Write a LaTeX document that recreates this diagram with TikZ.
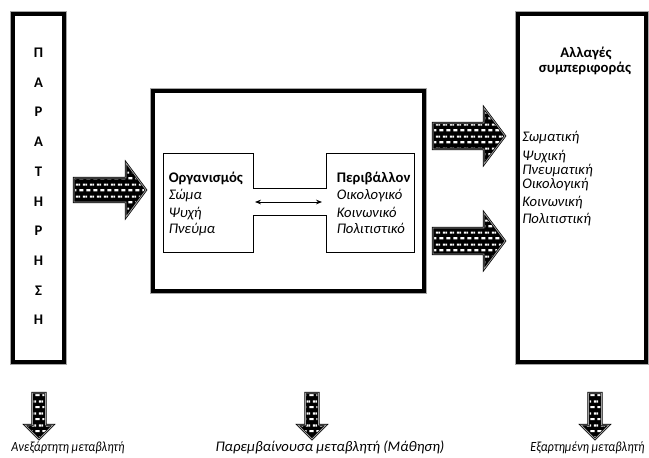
\documentclass[tikz,border=0pt]{standalone}
\usepackage{fontspec}
\setmainfont{Carlito}
\usetikzlibrary{patterns,arrows.meta}

% staggered white dashes used inside the block arrows
\pgfdeclarepatternformonly{brickdots}{\pgfqpoint{0pt}{0pt}}{\pgfqpoint{5.4pt}{9pt}}{\pgfqpoint{5.4pt}{9pt}}{%
  \pgfpathrectangle{\pgfqpoint{0.4pt}{1.4pt}}{\pgfqpoint{3.3pt}{1.7pt}}%
  \pgfpathrectangle{\pgfqpoint{3.1pt}{5.9pt}}{\pgfqpoint{2.3pt}{1.7pt}}%
  \pgfpathrectangle{\pgfqpoint{0pt}{5.9pt}}{\pgfqpoint{1pt}{1.7pt}}%
  \pgfusepath{fill}}

% right-pointing block arrow: x start, head base x, tip x, centre y, shaft half, head half
\newcommand\blockright[6]{%
  \path[blockarr] (#1,{#4-#5}) -- (#2,{#4-#5}) -- (#2,{#4-#6}) -- (#3,#4)
    -- (#2,{#4+#6}) -- (#2,{#4+#5}) -- (#1,{#4+#5}) -- cycle;}
% downward block arrow: centre x, top y, head base y, tip y, shaft half, head half
\newcommand\blockdown[6]{%
  \path[blockarr] ({#1-#5},#2) -- ({#1+#5},#2) -- ({#1+#5},#3) -- ({#1+#6},#3)
    -- (#1,#4) -- ({#1-#6},#3) -- ({#1-#5},#3) -- ({#1-#5},#2) -- cycle;}
% narrow italic caption
\newcommand\narrowcap[1]{\scalebox{0.87}[1]{#1}}

\tikzset{
  blockarr/.style={preaction={fill=black}, pattern=brickdots, pattern color=white,
    draw=black, line width=1.7pt, line join=miter,
    postaction={draw=gray!75, line width=0.6pt, line join=miter}},
  frameouter/.style={draw=gray!70, line width=1.1pt},
  frameinner/.style={draw=black, line width=2.3pt},
  lbl/.style={inner sep=0pt, font=\fontsize{11}{13}\selectfont},
  bold/.style={lbl, font=\fontsize{11}{13}\selectfont\bfseries},
  ital/.style={lbl, font=\fontsize{11}{13}\selectfont\itshape},
  capt/.style={lbl, font=\fontsize{10.5}{12}\selectfont\itshape},
}

\begin{document}
\begin{tikzpicture}[x=0.75pt, y=-0.75pt]
\useasboundingbox (0,0) rectangle (649,457);

% ---- framed boxes
\draw[frameouter] (11.2,12.2) rectangle (65.8,363.8);
\draw[frameinner] (13,14) rectangle (64,362);
\draw[frameouter] (151.2,89.2) rectangle (425.8,292.8);
\draw[frameinner] (153,91) rectangle (424,291);
\draw[frameouter] (516.2,12.2) rectangle (647.8,363.8);
\draw[frameinner] (518,14) rectangle (646,362);

% ---- vertical title in the left box
\foreach \ch [count=\i from 0] in {Π,Α,Ρ,Α,Τ,Η,Ρ,Η,Σ,Η}
  \node[bold, anchor=base] (p\i) at (38.5,{57.5+\i*29.7}) {\ch};

% ---- organism / environment block
\draw[line width=0.6pt] (163,153) -- (253,153) -- (253,188) -- (326,188) -- (326,153)
  -- (414,153) -- (414,252) -- (326,252) -- (326,215) -- (253,215) -- (253,252)
  -- (163,252) -- cycle;
\node[bold, anchor=base west] (org) at (168.5,182.5) {Οργανισμός};
\node[ital, anchor=base west] (o1) at (168.5,199.5) {Σώμα};
\node[ital, anchor=base west] (o2) at (168.5,217) {Ψυχή};
\node[ital, anchor=base west] (o3) at (168.5,233.5) {Πνεύμα};
\node[bold, anchor=base west] (env) at (336.5,182.5) {Περιβάλλον};
\node[ital, anchor=base west] (e1) at (336.5,199.5) {Οικολογικό};
\node[ital, anchor=base west] (e2) at (336.5,217) {Κοινωνικό};
\node[ital, anchor=base west] (e3) at (336.5,233.5) {Πολιτιστικό};
\coordinate (ml) at (255,202);
\coordinate (mr) at (322,202);
\draw[line width=0.6pt, {Stealth[length=4.5pt,width=3.5pt]}-{Stealth[length=4.5pt,width=3.5pt]}] (ml) -- (mr);

% ---- right box contents
\node[bold, anchor=base] (t1) at (586,57.5) {Αλλαγές};
\node[bold, anchor=base] (t2) at (585,72.5) {συμπεριφοράς};
\node[ital, anchor=base west] (r1) at (522,141) {Σωματική};
\node[ital, anchor=base west] (r2) at (522,160) {Ψυχική};
\node[ital, anchor=base west] (r3) at (522,174) {Πνευματική};
\node[ital, anchor=base west] (r4) at (522,188.5) {Οικολογική};
\node[ital, anchor=base west] (r5) at (522,206) {Κοινωνική};
\node[ital, anchor=base west] (r6) at (522,223) {Πολιτιστική};

% ---- block arrows between the boxes
\blockright{74}{126}{146}{190}{12}{27}
\blockright{433}{484}{505}{136}{13}{28}
\blockright{433}{484}{505}{241}{13}{28}

% ---- variable captions with downward arrows
\blockdown{39}{393}{425}{439}{6.5}{14}
\blockdown{312}{393}{425}{439}{6.5}{14}
\blockdown{595}{393}{425}{439}{6.5}{14}
\node[capt, anchor=base] (v1) at (68,451) {\narrowcap{Ανεξάρτητη μεταβλητή}};
\node[ital, anchor=base] (v2) at (330,451) {Παρεμβαίνουσα μεταβλητή (Μάθηση)};
\node[capt, anchor=base] (v3) at (587.5,451) {\narrowcap{Εξαρτημένη μεταβλητή}};
\end{tikzpicture}
\end{document}
